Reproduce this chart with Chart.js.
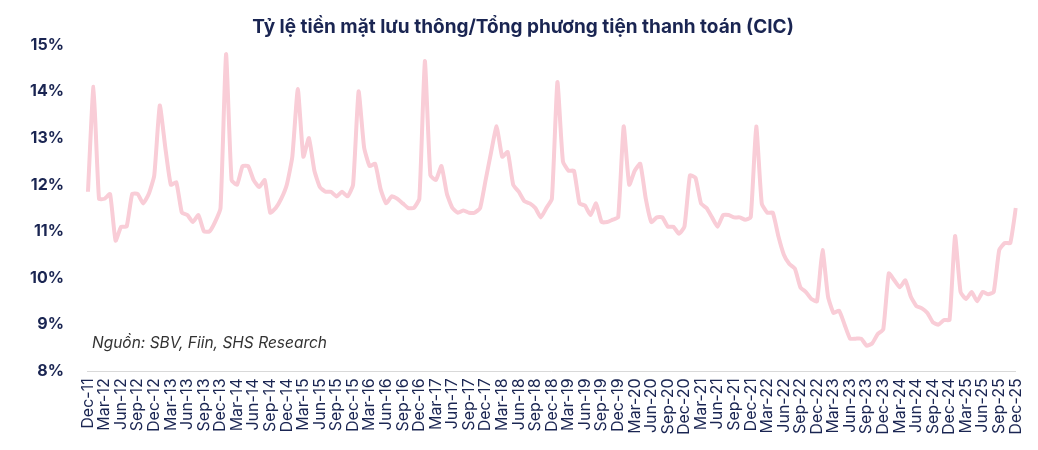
<!DOCTYPE html>
<html>
<head>
<meta charset="utf-8">
<script src="https://cdn.jsdelivr.net/npm/chart.js@4"></script>
<style>
  body { margin: 0; background: #fff; }
  #wrap { position: relative; width: 1038px; height: 450px; }
  #note { position: absolute; left: 92px; top: 333px; font: italic 15.5px Inter, sans-serif; color: #333; }
</style>
</head>
<body>
<div id="wrap">
  <canvas id="cic" width="1038" height="450"></canvas>
  <div id="note">Nguồn: SBV, Fiin, SHS Research</div>
</div>
<script>
const monthNames = ['Jan', 'Feb', 'Mar', 'Apr', 'May', 'Jun', 'Jul', 'Aug', 'Sep', 'Oct', 'Nov', 'Dec']
const startYear = 2011
const endYear = 2025

// Dec-11 .. Dec-25, monthly, %
const ratio = [
    11.85,
    14.1, 11.7, 11.7, 11.8, 10.8, 11.1, 11.1, 11.8, 11.8, 11.6, 11.8, 12.2,
    13.7, 12.8, 12.0, 12.05, 11.4, 11.35, 11.2, 11.35, 11.0, 11.0, 11.2, 11.5,
    14.8, 12.1, 12.0, 12.4, 12.4, 12.1, 11.95, 12.1, 11.4, 11.5, 11.7, 12.0,
    12.6, 14.05, 12.6, 13.0, 12.3, 11.95, 11.85, 11.85, 11.75, 11.85, 11.75, 12.0,
    14.0, 12.8, 12.4, 12.45, 11.9, 11.6, 11.75, 11.7, 11.6, 11.5, 11.5, 11.7,
    14.65, 12.2, 12.1, 12.4, 11.8, 11.5, 11.4, 11.45, 11.4, 11.4, 11.5, 12.1,
    12.7, 13.25, 12.6, 12.7, 12.0, 11.85, 11.65, 11.6, 11.5, 11.3, 11.5, 11.7,
    14.2, 12.5, 12.3, 12.3, 11.6, 11.55, 11.35, 11.6, 11.2, 11.2, 11.25, 11.3,
    13.25, 12.0, 12.3, 12.45, 11.7, 11.2, 11.3, 11.3, 11.1, 11.1, 10.95, 11.1,
    12.2, 12.15, 11.6, 11.5, 11.3, 11.1, 11.35, 11.35, 11.3, 11.3, 11.25, 11.3,
    13.25, 11.6, 11.4, 11.4, 10.9, 10.5, 10.3, 10.2, 9.8, 9.7, 9.55, 9.5,
    10.6, 9.6, 9.25, 9.3, 9.0, 8.7, 8.7, 8.7, 8.55, 8.6, 8.8, 8.9,
    10.1, 9.95, 9.8, 9.95, 9.6, 9.4, 9.35, 9.25, 9.05, 9.0, 9.1, 9.1,
    10.9, 9.7, 9.55, 9.7, 9.5, 9.7, 9.65, 9.7, 10.6, 10.75, 10.75, 11.5
]

const yTicks = [8, 9, 10, 11, 12, 13, 14, 15]

const months = ['Dec-' + String(startYear).slice(2)]
for (let y = startYear + 1; y <= endYear; y++) {
    monthNames.forEach(m => months.push(m + '-' + String(y).slice(2)))
}

const navy = '#1a2552'

new Chart(document.querySelector('#cic'), {
    type: 'line',
    data: {
        labels: months,
        datasets: [{
            data: ratio,
            borderColor: '#f9cdd7',
            borderWidth: 4,
            pointRadius: 0,
            tension: 0.15,
            fill: false
        }]
    },
    options: {
        responsive: false,
        animation: false,
        layout: { padding: { left: 14, right: 6, top: 2, bottom: 12 } },
        plugins: {
            legend: { display: false },
            tooltip: { enabled: false },
            title: {
                display: true,
                text: 'Tỷ lệ tiền mặt lưu thông/Tổng phương tiện thanh toán (CIC)',
                color: navy,
                font: { family: 'Inter', size: 19, weight: 'bold' },
                padding: { top: 14, bottom: 6 }
            }
        },
        scales: {
            x: {
                offset: false,
                grid: { display: false, drawTicks: true, tickLength: 4, color: '#d0d0d0' },
                border: { color: '#d9d9d9' },
                ticks: {
                    autoSkip: false,
                    maxRotation: 90,
                    minRotation: 90,
                    color: navy,
                    font: { family: 'Inter', size: 16 },
                    callback: (v, i) => i % 3 === 0 ? months[i] : ''
                }
            },
            y: {
                min: yTicks[0],
                max: yTicks[yTicks.length - 1],
                afterBuildTicks: axis => { axis.ticks = yTicks.map(v => ({ value: v })) },
                grid: { display: false },
                border: { display: false },
                ticks: {
                    color: navy,
                    padding: 16,
                    font: { family: 'Inter', size: 16, weight: 'bold' },
                    callback: v => v + '%'
                }
            }
        }
    }
})
</script>
</body>
</html>
